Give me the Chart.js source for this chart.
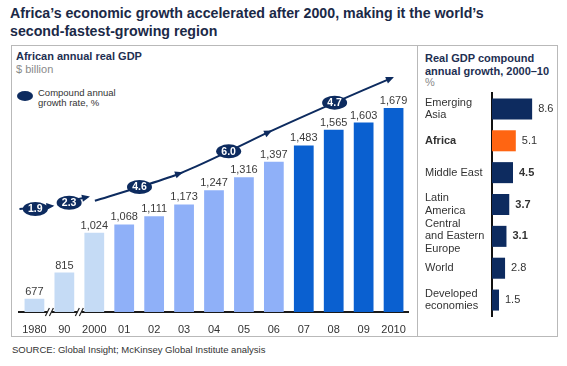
<!DOCTYPE html>
<html>
<head>
<meta charset="utf-8">
<script src="https://cdn.jsdelivr.net/npm/chart.js@4.4.1/dist/chart.umd.min.js"></script>
<style>
  body { margin: 0; width: 567px; height: 366px; background: #fff; position: relative; overflow: hidden;
         font-family: "Liberation Sans", Arial, sans-serif; }
  .t { position: absolute; white-space: nowrap; }
  #title { left: 10px; top: 4px; font-size: 14.2px; font-weight: bold; color: #1b2947; line-height: 18px; }
  #box { position: absolute; left: 11px; top: 45px; width: 545px; height: 290px; border: 1px solid #b9b9b9; }
  #divider { position: absolute; left: 417px; top: 45px; width: 1px; height: 291px; background: #b9b9b9; }
  .ph { font-size: 11px; font-weight: bold; color: #1e2f52; line-height: 12.5px; }
  .unit { font-size: 11px; color: #8a8a8a; }
  #legend { left: 38px; top: 88px; font-size: 9.5px; color: #333; line-height: 10px; }
  #legdot { position: absolute; left: 17px; top: 91px; width: 16px; height: 10px; border-radius: 50%; background: #0d2b5f; }
  #source { left: 12px; top: 344px; font-size: 9.5px; color: #333; }
  #left { position: absolute; left: 11px; top: 45px; }
  #right { position: absolute; left: 418px; top: 45px; }
</style>
</head>
<body>
<div id="title" class="t">Africa’s economic growth accelerated after 2000, making it the world’s<br>second-fastest-growing region</div>
<div id="box"></div>
<div id="divider"></div>
<div class="t ph" style="left:16px;top:50px">African annual real GDP</div>
<div class="t unit" style="left:16px;top:63px">$ billion</div>
<div id="legdot"></div>
<div id="legend" class="t">Compound annual<br>growth rate, %</div>
<div class="t ph" style="left:425px;top:52px">Real GDP compound<br>annual growth, 2000–10</div>
<div class="t unit" style="left:425px;top:76px">%</div>
<div id="source" class="t">SOURCE: Global Insight; McKinsey Global Institute analysis</div>
<canvas id="left" width="406" height="300"></canvas>
<canvas id="right" width="139" height="291"></canvas>
<script>
// ---- left panel: African annual real GDP, $ billion
const years = ["1980", "90", "2000", "01", "02", "03", "04", "05", "06", "07", "08", "09", "2010"];
const gdp = [677, 815, 1024, 1068, 1111, 1173, 1247, 1316, 1397, 1483, 1565, 1603, 1679];

// growth-rate arrow, x = category index, y = % of plot height
const trend1980s = [{ x: -0.5, y: 41.9 }, { x: 0.6, y: 43.1 }];
const trend1990s = [{ x: 0.79, y: 44.0 }, { x: 1.79, y: 46.8 }];
const trend2000s = [{ x: 2.02, y: 45.2 }, { x: 3.51, y: 50.8 }, { x: 4.9, y: 56.5 },
                    { x: 6.49, y: 65.3 }, { x: 7.88, y: 73.4 }, { x: 10.03, y: 85.1 }, { x: 11.95, y: 95.2 }];
const midArrows = [2, 4]; // extra arrowheads inside the 2000s line (at 03 and 06)

const growthText = ["1.9", "2.3", "4.6", "6.0", "4.7"];
const growthX = [0.03, 1.16, 3.51, 6.49, 10.03];
const growthY = [41.9, 44.4, 50.8, 65.3, 85.1];

// ---- right panel: real GDP compound annual growth 2000-10, %
const regions = [["Emerging", "Asia"], "Africa", "Middle East", ["Latin", "America"],
                 ["Central", "and Eastern", "Europe"], "World", ["Developed", "economies"]];
const cagr = [8.6, 5.1, 4.5, 3.7, 3.1, 2.8, 1.5];
const boldValue = [false, false, true, true, true, false, false];

const NAVY = "#0d2b5f";
const FONT = '"Liberation Sans", Arial, sans-serif';

function barColor(i) {
  if (i < 3) return "#c5dbf5";
  if (i < 9) return "#8fb0f8";
  return "#0a60d0";
}

function arrowHead(ctx, x0, y0, x1, y1) {
  const a = Math.atan2(y1 - y0, x1 - x0);
  ctx.save();
  ctx.translate(x1, y1);
  ctx.rotate(a);
  ctx.beginPath();
  ctx.moveTo(2, 0);
  ctx.lineTo(-6, -3.5);
  ctx.lineTo(-6, 3.5);
  ctx.closePath();
  ctx.fill();
  ctx.restore();
}

const leftDecor = {
  id: "leftDecor",
  afterDatasetsDraw(chart) {
    const ctx = chart.ctx;
    const xs = chart.scales.xt, ys = chart.scales.yt;
    const area = chart.chartArea;

    // axis breaks between 1980 / 90 / 2000
    ctx.save();
    ctx.strokeStyle = "#222";
    ctx.lineWidth = 1.2;
    [0.5, 1.5].forEach(v => {
      const px = xs.getPixelForValue(v);
      ctx.fillStyle = "#fff";
      ctx.fillRect(px - 2, area.bottom - 2, 4, 4);
      [-2, 2].forEach(d => {
        ctx.beginPath();
        ctx.moveTo(px + d - 2, area.bottom + 4);
        ctx.lineTo(px + d + 2, area.bottom - 4);
        ctx.stroke();
      });
    });
    ctx.restore();

    // value labels
    ctx.save();
    ctx.font = "11px " + FONT;
    ctx.fillStyle = "#3b3b3b";
    ctx.textAlign = "center";
    ctx.textBaseline = "alphabetic";
    chart.getDatasetMeta(0).data.forEach((bar, i) => {
      ctx.fillText(gdp[i].toLocaleString("en-US"), bar.x, bar.y - 4);
    });
    ctx.restore();

    // arrowheads
    ctx.save();
    ctx.fillStyle = NAVY;
    [1, 2, 3].forEach(di => {
      const pts = chart.getDatasetMeta(di).data;
      const n = pts.length;
      arrowHead(ctx, pts[n - 2].x, pts[n - 2].y, pts[n - 1].x, pts[n - 1].y);
      if (di === 3) midArrows.forEach(k => {
        arrowHead(ctx, pts[k - 1].x, pts[k - 1].y, pts[k].x, pts[k].y);
      });
    });

    // growth-rate badges
    ctx.font = "bold 10.5px " + FONT;
    ctx.textAlign = "center";
    ctx.textBaseline = "middle";
    growthText.forEach((t, i) => {
      const px = xs.getPixelForValue(growthX[i]);
      const py = ys.getPixelForValue(growthY[i]);
      ctx.fillStyle = NAVY;
      ctx.beginPath();
      ctx.ellipse(px, py, 12.5, 7, 0, 0, Math.PI * 2);
      ctx.fill();
      ctx.fillStyle = "#fff";
      ctx.fillText(t, px, py + 0.5);
    });
    ctx.restore();
  }
};

const lineStyle = {
  type: "line", xAxisID: "xt", yAxisID: "yt", borderColor: NAVY, borderWidth: 2,
  pointRadius: 0, tension: 0.3, clip: false, fill: false
};

new Chart(document.getElementById("left"), {
  data: {
    labels: years,
    datasets: [
      { type: "bar", data: gdp, backgroundColor: gdp.map((v, i) => barColor(i)),
        grouped: false, barPercentage: 0.66, categoryPercentage: 1, xAxisID: "x", yAxisID: "y" },
      { ...lineStyle, data: trend1980s },
      { ...lineStyle, data: trend1990s },
      { ...lineStyle, data: trend2000s }
    ]
  },
  options: {
    responsive: false, animation: false, devicePixelRatio: 1,
    layout: { padding: { left: 6, right: 7.5, top: 21, bottom: 6 } },
    plugins: { legend: { display: false }, tooltip: { enabled: false } },
    scales: {
      x: { type: "category", offset: true,
           grid: { display: false, drawTicks: false, tickLength: 0 },
           border: { display: true, color: "#1a1a1a", width: 2 },
           afterFit: s => { s.height = 27; },
           ticks: { color: "#333", font: { family: FONT, size: 11 }, padding: 11, autoSkip: false, maxRotation: 0 } },
      xt: { type: "linear", display: false, min: -0.5, max: 12.5 },
      y: { display: false, min: 608, max: 1900 },
      yt: { display: false, min: 0, max: 100 }
    }
  },
  plugins: [leftDecor]
});

const rightDecor = {
  id: "rightDecor",
  afterDatasetsDraw(chart) {
    const ctx = chart.ctx;
    ctx.save();
    ctx.fillStyle = "#333";
    ctx.textAlign = "left";
    ctx.textBaseline = "middle";
    chart.getDatasetMeta(0).data.forEach((bar, i) => {
      ctx.font = (boldValue[i] ? "bold " : "") + "11px " + FONT;
      ctx.fillText(cagr[i].toFixed(1), bar.x + 6, bar.y);
    });
    ctx.restore();
  }
};

new Chart(document.getElementById("right"), {
  type: "bar",
  data: {
    labels: regions,
    datasets: [{ data: cagr, backgroundColor: cagr.map((v, i) => i === 1 ? "#ff6512" : NAVY),
                 barPercentage: 0.66, categoryPercentage: 1 }]
  },
  options: {
    indexAxis: "y",
    responsive: false, animation: false, devicePixelRatio: 1,
    layout: { padding: { left: 7, right: 9, top: 48, bottom: 20 } },
    plugins: { legend: { display: false }, tooltip: { enabled: false } },
    scales: {
      x: { display: false, min: 0, max: 12 },
      y: { grid: { display: false },
           border: { display: true, color: "#111", width: 2 },
           afterFit: s => { s.width = 67; },
           ticks: { crossAlign: "far", color: "#333", padding: 4, autoSkip: false,
                    font: c => ({ family: FONT, size: 11, lineHeight: 1.16, weight: c.index === 1 ? "bold" : "normal" }) } }
    }
  },
  plugins: [rightDecor]
});
</script>
</body>
</html>
